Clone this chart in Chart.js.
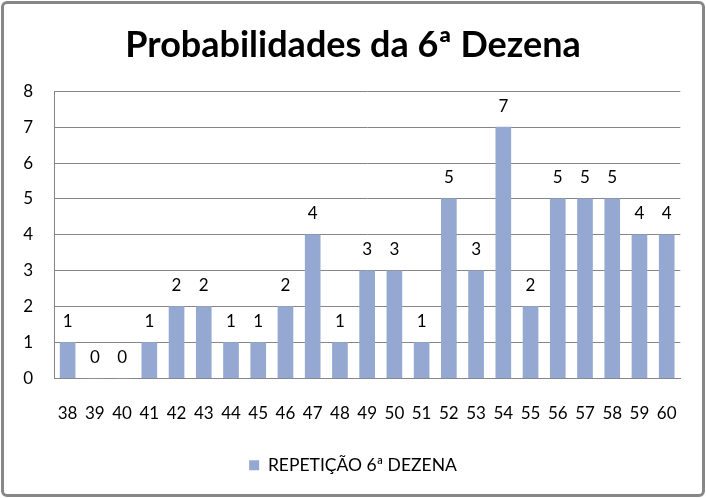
<!DOCTYPE html>
<html>
<head>
<meta charset="utf-8">
<script src="https://cdn.jsdelivr.net/npm/chart.js@4/dist/chart.umd.min.js"></script>
<style>
  html, body { margin: 0; padding: 0; background: #fff; }
  #frame { position: absolute; left: 1px; top: 1px; width: 704px; height: 496px; box-sizing: border-box;
           border: 3px solid #878787; border-radius: 6px; background: #fff; overflow: hidden; }
  #c { display: block; }
</style>
</head>
<body>
<div id="frame"><canvas id="c" width="698" height="490"></canvas></div>
<script>
const categories = ['38','39','40','41','42','43','44','45','46','47','48','49','50','51','52','53','54','55','56','57','58','59','60'];
const seriesName = 'REPETIÇÃO 6ª DEZENA';
const values = [1,0,0,1,2,2,1,1,2,4,1,3,3,1,5,3,7,2,5,5,5,4,4];
const titleText = 'Probabilidades da 6ª Dezena';
const yTicks = [0,1,2,3,4,5,6,7,8];

const FONT = 'Lato, "Liberation Sans", sans-serif';
const barColor = '#94A8D1';

const valueLabels = {
  id: 'valueLabels',
  afterLayout(chart) {
    // center title and legend across the full canvas width
    if (chart.titleBlock) { chart.titleBlock.left = 0; chart.titleBlock.right = chart.width; chart.titleBlock.width = chart.width; }
    if (chart.legend) { chart.legend.left = 0; chart.legend.right = chart.width; chart.legend.width = chart.width; }
  },
  afterDatasetsDraw(chart) {
    const ctx = chart.ctx;
    ctx.save();
    ctx.font = '17px ' + FONT;
    ctx.fillStyle = '#000';
    ctx.textAlign = 'center';
    ctx.textBaseline = 'middle';
    chart.data.datasets.forEach((ds, i) => {
      const meta = chart.getDatasetMeta(i);
      meta.data.forEach((el, j) => {
        ctx.fillText(String(ds.data[j]), el.x, el.y - 21);
      });
    });
    ctx.restore();
  }
};

new Chart(document.getElementById('c'), {
  type: 'bar',
  data: {
    labels: categories,
    datasets: [{
      label: seriesName,
      data: values,
      backgroundColor: barColor,
      borderWidth: 0,
      barThickness: 15
    }]
  },
  options: {
    responsive: false,
    animation: false,
    layout: { padding: { left: 0, right: 20, top: 0, bottom: 10 } },
    plugins: {
      title: {
        display: true,
        text: titleText,
        color: '#000',
        font: { family: FONT, size: 36, weight: 'bold' },
        padding: { top: 20, bottom: 24 }
      },
      legend: {
        display: true,
        position: 'bottom',
        labels: {
          color: '#000',
          font: { family: FONT, size: 17.5 },
          boxWidth: 10,
          boxHeight: 10,
          padding: 10
        }
      },
      tooltip: { enabled: false }
    },
    scales: {
      x: {
        offset: true,
        grid: { display: false, drawTicks: false },
        border: { display: true, color: '#868686', width: 1 },
        ticks: { color: '#000', font: { family: FONT, size: 17 }, padding: 25, maxRotation: 0, autoSkip: false },
        afterFit(scale) { scale.height = 68; }
      },
      y: {
        min: 0,
        max: 8,
        afterBuildTicks(scale) { scale.ticks = yTicks.map(v => ({ value: v })); },
        grid: { color: '#868686', drawTicks: false },
        border: { display: true, color: '#868686', width: 1 },
        ticks: { color: '#000', font: { family: FONT, size: 17 }, padding: 21 },
        afterFit(scale) { scale.width = 50; }
      }
    }
  },
  plugins: [valueLabels]
});
</script>
</body>
</html>
